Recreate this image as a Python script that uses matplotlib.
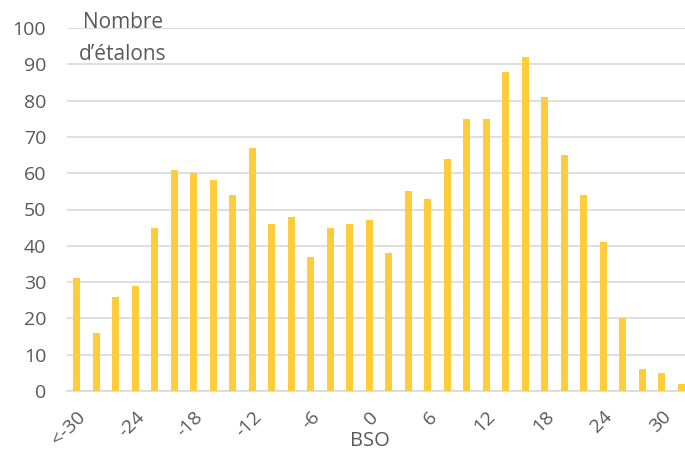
import matplotlib
matplotlib.use("Agg")
import matplotlib.pyplot as plt

categories = ["<-30", "-28", "-26", "-24", "-22", "-20", "-18", "-16", "-14", "-12",
              "-10", "-8", "-6", "-4", "-2", "0", "2", "4", "6", "8", "10", "12",
              "14", "16", "18", "20", "22", "24", "26", "28", "30", "32"]
values = [31, 16, 26, 29, 45, 61, 60, 58, 54, 67, 46, 48, 37, 45, 46, 47, 38,
          55, 53, 64, 75, 75, 88, 92, 81, 65, 54, 41, 20, 6, 5, 2]
tick_labels = ["<-30", "-24", "-18", "-12", "-6", "0", "6", "12", "18", "24", "30"]

plt.rcParams['font.family'] = ['Open Sans', 'DejaVu Sans']
gray = '#595959'

fig = plt.figure(figsize=(6.85, 4.55), dpi=100)
ax = fig.add_axes([67/685, 64/455, 624/685, 363/455])
x = list(range(len(categories)))
ax.bar(x, values, width=0.36, color='#FFCD3C', zorder=3)
ax.set_xlim(-0.5, len(categories) - 0.5)
ax.set_ylim(0, 100)
ax.set_yticks(range(0, 101, 10))
ax.grid(axis='y', color='#D9D9D9', linewidth=1.2, zorder=0)
for s in ['top', 'right', 'left']:
    ax.spines[s].set_visible(False)
ax.spines['bottom'].set_color('#D9D9D9')
ax.spines['bottom'].set_linewidth(1.2)
tick_pos = [categories.index(t) for t in tick_labels]
ax.set_xticks(tick_pos)
ax.set_xticklabels(tick_labels, rotation=45, ha='right', rotation_mode='anchor',
                   fontsize=14, color=gray)
ax.tick_params(axis='both', length=0, labelsize=14, labelcolor=gray)
ax.tick_params(axis='x', pad=12)
ax.tick_params(axis='y', pad=15)
fig.text(370/685, 1 - 446/455, "BSO", fontsize=14.5, color=gray,
         va='baseline', ha='center')
fig.text(123/685, 1 - 28/455, "Nombre", fontsize=15, color=gray,
         va='baseline', ha='center')
fig.text(123/685, 1 - 60/455, "d\u2019étalons", fontsize=15, color=gray,
         va='baseline', ha='center')
fig.savefig("out.png", dpi=100)
